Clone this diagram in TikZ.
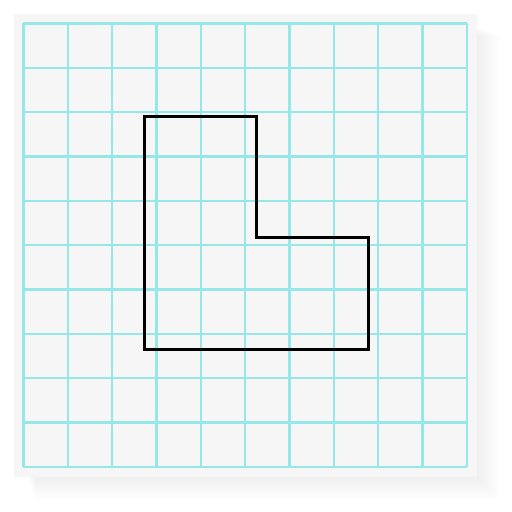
\documentclass[tikz,border=0pt]{standalone}
\usepackage{tikz}

\definecolor{gridcyan}{RGB}{150,232,232}
\definecolor{paper}{RGB}{246,246,246}

\begin{document}
\begin{tikzpicture}[
  x=1pt, y=-1pt,
  gridline/.style={draw=gridcyan, line width=2.2pt},
  outline/.style={draw=black, line width=3pt, line join=miter},
]
  \useasboundingbox (0,0) rectangle (512,512);
  \fill[white] (0,0) rectangle (512,512);

  % Soft shadow under the sheet
  \foreach \s in {1,...,20}{
    \fill[black, opacity=0.005] (24+0.6*\s,24+0.6*\s) rectangle (470+1.5*\s,470+1.5*\s);
  }

  % Sheet
  \fill[paper] (14,14) rectangle (477,477);

  % Grid 10 x 10
  \foreach \i in {0,...,10}{
    \draw[gridline] (23.4+44.35*\i,23.4) -- (23.4+44.35*\i,466.9);
    \draw[gridline] (23.4,23.4+44.35*\i) -- (466.9,23.4+44.35*\i);
  }

  % L-shaped figure
  \draw[outline] (144.5,116) -- (256.5,116) -- (256.5,237) -- (368.5,237)
    -- (368.5,349) -- (144.5,349) -- cycle;
\end{tikzpicture}
\end{document}
